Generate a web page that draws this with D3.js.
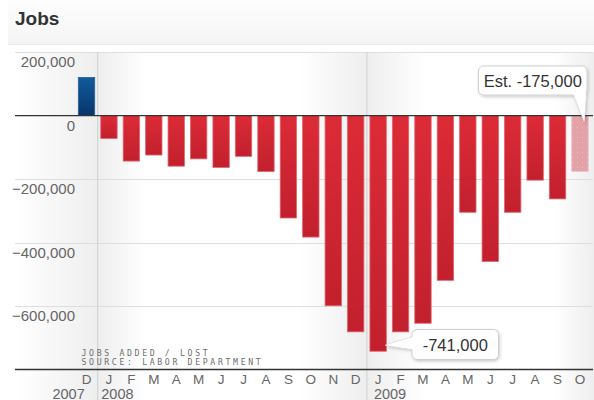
<!DOCTYPE html>
<html>
<head>
<meta charset="utf-8">
<script src="https://cdn.jsdelivr.net/npm/d3@7"></script>
<style>
  html, body { margin: 0; padding: 0; background: #fff; }
  svg { display: block; font-family: "Liberation Sans", Arial, Helvetica, sans-serif; }
</style>
</head>
<body>
<svg id="chart" width="594" height="400"></svg>
<script>
// Monthly change in payrolls, Dec 2007 – Oct 2009
const months = ["D","J","F","M","A","M","J","J","A","S","O","N","D","J","F","M","A","M","J","J","A","S","O"];
const monthYears = [2007,2008,2008,2008,2008,2008,2008,2008,2008,2008,2008,2008,2008,2009,2009,2009,2009,2009,2009,2009,2009,2009,2009];
const jobs = [120000,-72000,-143000,-124000,-159000,-136000,-163000,-128000,-176000,-322000,-382000,-598000,-680000,-741000,-680000,-653000,-518000,-304000,-459000,-304000,-203000,-262000,-175000];
const estimated = [false,false,false,false,false,false,false,false,false,false,false,false,false,false,false,false,false,false,false,false,false,false,true];
const yTicks = [200000, 0, -200000, -400000, -600000];
const yearLabels = ["2007", "2008", "2009"];
const callouts = [
  { index: 22, text: "Est. -175,000" },
  { index: 13, text: "-741,000" }
];
const noteLines = ["JOBS ADDED / LOST", "SOURCE: LABOR DEPARTMENT"];

const svg = d3.select("#chart");
const W = 594, H = 400;
const keys = d3.range(jobs.length);

const x = d3.scaleBand().domain(keys).range([75.3, 591.2]).paddingInner(0.27).paddingOuter(0.135);
const y = d3.scaleLinear().domain([-800000, 200000]).range([370, 52]);

const gridLeft = 15, gridRight = 593;
const step = x.step();
const sepX = i => x(i) - step * x.paddingInner() / 2;
// Year boundaries: first month of each new year
const yearStarts = keys.filter(i => i > 0 && monthYears[i] !== monthYears[i - 1]);

const defs = svg.append("defs");
function hGrad(id, stops) {
  const g = defs.append("linearGradient").attr("id", id).attr("x1", 0).attr("x2", 1).attr("y1", 0).attr("y2", 0);
  stops.forEach(s => g.append("stop").attr("offset", s[0]).attr("stop-color", s[1]));
}
function vGrad(id, stops) {
  const g = defs.append("linearGradient").attr("id", id).attr("x1", 0).attr("x2", 0).attr("y1", 0).attr("y2", 1);
  stops.forEach(s => g.append("stop").attr("offset", s[0]).attr("stop-color", s[1]));
}
hGrad("fadeIn", [[0, "#ffffff"], [1, "#eeeeee"]]);
hGrad("fadeOut", [[0, "#eeeeee"], [1, "#ffffff"]]);
vGrad("header", [[0, "#fdfdfd"], [0.85, "#f6f6f6"], [1, "#f2f2f2"]]);
vGrad("red", [[0, "#dc2b37"], [1, "#c2202e"]]);
vGrad("blue", [[0, "#115a9c"], [1, "#06356b"]]);

const shadow = defs.append("filter").attr("id", "shadow").attr("x", "-20%").attr("y", "-30%").attr("width", "140%").attr("height", "170%");
shadow.append("feDropShadow").attr("dx", 1).attr("dy", 1.5).attr("stdDeviation", 1.5)
  .attr("flood-color", "#000").attr("flood-opacity", 0.2);

// Faint dot texture for the estimated month
const dots = defs.append("pattern").attr("id", "dots").attr("width", 5).attr("height", 5).attr("patternUnits", "userSpaceOnUse");
dots.append("rect").attr("width", 5).attr("height", 5).attr("fill", "#e3a2a8");
dots.append("rect").attr("x", 2).attr("y", 2).attr("width", 1).attr("height", 1).attr("fill", "#ebb8bc");

// Header band
svg.append("rect").attr("x", 8).attr("y", 0).attr("width", W - 8).attr("height", 44).attr("fill", "url(#header)");
svg.append("line").attr("x1", 8).attr("x2", W).attr("y1", 44.5).attr("y2", 44.5).attr("stroke", "#ececec");

svg.append("text").attr("x", 15).attr("y", 25)
  .attr("font-size", 19).attr("font-weight", "bold").attr("fill", "#333").text("Jobs");

// Shading around the year boundaries
const plotTop = y(200000), plotBottom = H;
const shade = svg.append("g");
function shadeRect(x0, w, grad) {
  shade.append("rect").attr("x", x0).attr("y", plotTop).attr("width", w)
    .attr("height", plotBottom - plotTop).attr("fill", `url(#${grad})`);
}
shadeRect(gridLeft, sepX(yearStarts[0]) - gridLeft, "fadeIn");
shadeRect(sepX(yearStarts[0]), 48, "fadeOut");
shadeRect(sepX(yearStarts[1]) - 68, 68, "fadeIn");
shadeRect(sepX(yearStarts[1]), 58, "fadeOut");
shadeRect(W - 40, 40, "fadeIn");

// Gridlines
svg.append("g").selectAll("line").data(yTicks.filter(d => d !== 0)).join("line")
  .attr("x1", gridLeft).attr("x2", gridRight)
  .attr("y1", d => Math.round(y(d)) + 0.5).attr("y2", d => Math.round(y(d)) + 0.5)
  .attr("stroke", "#dedede").attr("stroke-width", 1);

// Year separators
svg.append("g").selectAll("line").data(yearStarts).join("line")
  .attr("x1", d => sepX(d)).attr("x2", d => sepX(d))
  .attr("y1", plotTop).attr("y2", H)
  .attr("stroke", "#cfcfcf").attr("stroke-width", 1);

// Y tick labels
const fmt = d3.format(",");
svg.append("g").selectAll("text").data(yTicks).join("text")
  .attr("x", 75).attr("y", d => y(d) + 15)
  .attr("text-anchor", "end").attr("font-size", 15).attr("fill", "#666")
  .text(d => d === 0 ? "0" : fmt(d));

// Bars
svg.append("g").selectAll("rect").data(keys).join("rect")
  .attr("x", i => x(i))
  .attr("width", x.bandwidth())
  .attr("y", i => y(Math.max(0, jobs[i])))
  .attr("height", i => Math.abs(y(jobs[i]) - y(0)))
  .attr("fill", i => estimated[i] ? "url(#dots)" : (jobs[i] >= 0 ? "url(#blue)" : "url(#red)"))
  .attr("stroke", i => estimated[i] ? "#eab8bc" : (jobs[i] >= 0 ? "#2a629c" : "#e0646d"))
  .attr("stroke-width", 0.8);

// Zero line and baseline axis
svg.append("line").attr("x1", gridLeft).attr("x2", gridRight).attr("y1", y(0)).attr("y2", y(0))
  .attr("stroke", "#333").attr("stroke-width", 1.2);
svg.append("line").attr("x1", gridLeft).attr("x2", gridRight).attr("y1", 369.5).attr("y2", 369.5)
  .attr("stroke", "#333").attr("stroke-width", 1.4);

// Month labels
svg.append("g").selectAll("text").data(keys).join("text")
  .attr("x", i => x(i) + x.bandwidth() / 2)
  .attr("y", 384)
  .attr("text-anchor", "middle").attr("font-size", 13.5).attr("fill", "#666")
  .text(i => months[i]);

// Year labels
const yearG = svg.append("g").attr("font-size", 14.5).attr("fill", "#666");
yearG.append("text").attr("x", sepX(yearStarts[0]) - 13).attr("y", 398.5).attr("text-anchor", "end").text(yearLabels[0]);
yearG.append("text").attr("x", x(yearStarts[0]) + 0.5).attr("y", 398.5).attr("text-anchor", "start").text(yearLabels[1]);
yearG.append("text").attr("x", x(yearStarts[1]) + 4).attr("y", 398.5).attr("text-anchor", "start").text(yearLabels[2]);

// Footnote
svg.append("g").attr("font-family", "'DejaVu Sans Mono', monospace").attr("font-size", 8.2)
  .attr("letter-spacing", 2.65).attr("fill", "#6e6e6e")
  .selectAll("text").data(noteLines).join("text")
  .attr("x", 81.5).attr("y", (d, i) => 355.8 + i * 9)
  .text(d => d);

// Callouts
function callout(c, box, tail) {
  const g = svg.append("g").attr("filter", "url(#shadow)");
  g.append("path").attr("d", d3.line()(tail) + "Z").attr("fill", "#fff").attr("stroke", "#cfcfcf").attr("stroke-width", 1);
  g.append("rect").attr("x", box.x).attr("y", box.y).attr("width", box.w).attr("height", box.h)
    .attr("rx", 5).attr("fill", "#fff").attr("stroke", "#cfcfcf").attr("stroke-width", 1);
  // cover the seam where the tail meets the box
  svg.append("path").attr("d", d3.line()(tail) + "Z").attr("fill", "#fff");
  svg.append("text").attr("x", box.x + box.w / 2).attr("y", box.y + box.h / 2 + 6)
    .attr("text-anchor", "middle").attr("font-size", 16.5).attr("fill", "#333").text(c.text);
}

// Estimate label above the last bar, tail dropping onto its top
{
  const c = callouts[0];
  const bx = x(c.index) + x.bandwidth();
  const by = y(0);
  const box = { x: 478.5, y: 66, w: 108.5, h: 29 };
  const tail = [[bx - 15, box.y + box.h - 2], [bx - 2, box.y + box.h - 2], [bx - 4, by + 6]];
  callout(c, box, tail);
}
// Low point label to the right of the trough bar
{
  const c = callouts[1];
  const px = x(c.index) + x.bandwidth() - 1;
  const py = y(jobs[c.index]) - 6;
  const box = { x: 412, y: 329.5, w: 86.5, h: 30 };
  const tail = [[box.x + 2, box.y + 7], [box.x + 2, box.y + 20], [px, py]];
  callout(c, box, tail);
}
</script>
</body>
</html>
